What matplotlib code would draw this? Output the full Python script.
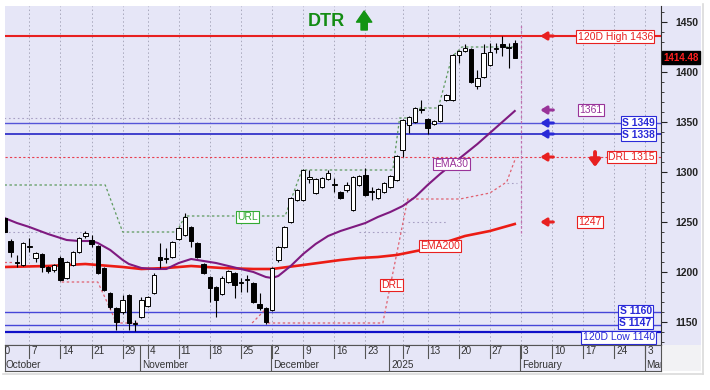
import matplotlib
matplotlib.use('Agg')
import matplotlib.pyplot as plt
from matplotlib.patches import Rectangle
from matplotlib.transforms import blended_transform_factory
from matplotlib.lines import Line2D

plt.rcParams['font.family'] = ['Liberation Sans', 'DejaVu Sans']

# x = trading day index, 0 = 30 Sep 2024 (28 Oct was not a trading day)
days = list(range(1, 84))
opens = [1254, 1231, 1210, 1207, 1225, 1214, 1218, 1205, 1202, 1214,
         1194, 1207, 1220, 1236, 1232, 1226, 1204, 1179, 1164, 1160,
         1177, 1148, 1155, 1166, 1179, 1215, 1213, 1215, 1233, 1237,
         1245, 1229, 1208, 1195, 1185, 1178, 1190, 1199, 1189, 1192,
         1189, 1168, 1164, 1162, 1212, 1225, 1250, 1272, 1272, 1293,
         1279, 1285, 1293, 1287, 1280, 1282, 1262, 1287, 1297, 1280,
         1274, 1280, 1285, 1292, 1322, 1347, 1350, 1362, 1353, 1348,
         1351, 1372, 1372, 1417, 1421, 1423, 1386, 1395, 1407, 1423,
         1428, 1424, 1429]
highs = [1256, 1233, 1217, 1230, 1234, 1220, 1219, 1206, 1208, 1216,
         1211, 1221, 1235, 1241, 1237, 1227, 1205, 1180, 1165, 1177,
         1178, 1152, 1175, 1176, 1199, 1229, 1224, 1231, 1245, 1259,
         1246, 1230, 1209, 1196, 1186, 1196, 1202, 1200, 1194, 1197,
         1190, 1179, 1165, 1205, 1226, 1246, 1275, 1283, 1303, 1302,
         1294, 1295, 1302, 1294, 1281, 1290, 1296, 1297, 1304, 1285,
         1284, 1290, 1297, 1317, 1353, 1356, 1365, 1372, 1354, 1352,
         1368, 1378, 1418, 1422, 1428, 1424, 1402, 1428, 1429, 1429,
         1436, 1429, 1432]
lows = [1238, 1215, 1205, 1206, 1220, 1210, 1200, 1199, 1200, 1191,
        1193, 1206, 1219, 1234, 1225, 1198, 1181, 1163, 1142, 1158,
        1142, 1141, 1154, 1165, 1178, 1204, 1209, 1214, 1232, 1236,
        1225, 1214, 1198, 1170, 1155, 1177, 1189, 1174, 1180, 1180,
        1169, 1162, 1148, 1161, 1210, 1224, 1249, 1271, 1271, 1289,
        1278, 1284, 1292, 1280, 1273, 1280, 1261, 1286, 1276, 1272,
        1273, 1279, 1284, 1291, 1315, 1339, 1349, 1359, 1338, 1347,
        1350, 1371, 1371, 1409, 1420, 1389, 1383, 1394, 1406, 1419,
        1416, 1404, 1414]
closes = [1240, 1220, 1209, 1229, 1226, 1219, 1205, 1201, 1207, 1192,
          1210, 1220, 1234, 1239, 1228, 1199, 1182, 1165, 1150, 1172,
          1149, 1149, 1172, 1175, 1197, 1212, 1214, 1230, 1244, 1255,
          1231, 1215, 1199, 1184, 1172, 1194, 1201, 1187, 1190, 1193,
          1170, 1164, 1150, 1204, 1225, 1245, 1274, 1282, 1302, 1295,
          1293, 1294, 1299, 1288, 1274, 1287, 1295, 1296, 1277, 1281,
          1283, 1289, 1296, 1316, 1352, 1355, 1364, 1363, 1344, 1351,
          1367, 1377, 1417, 1421, 1424, 1390, 1394, 1419, 1420, 1424,
          1425, 1425, 1414.48]

ema30_x = [1, 3, 5, 8, 11, 13, 15, 16, 18, 20, 21, 23, 25, 27, 29, 31, 33, 35,
           37, 39, 41, 43, 44, 45, 47, 49, 51, 53, 55, 57, 59, 61, 63, 65, 67,
           69, 71, 73, 75, 77, 79, 81, 83]
ema30 = [1254, 1249, 1245, 1238, 1232, 1231, 1231, 1229, 1222, 1212, 1208,
         1204, 1203, 1203, 1209, 1213, 1211, 1209, 1206, 1203, 1200, 1195,
         1194, 1196, 1206, 1218, 1228, 1236, 1241, 1245, 1249, 1255, 1260,
         1266, 1275, 1287, 1298, 1308, 1318, 1328, 1339, 1350, 1361]
ema200_x = [1, 8, 14, 16, 20, 23, 27, 31, 36, 41, 44, 49, 55, 58, 61, 64, 68,
            72, 75, 79, 83]
ema200 = [1205, 1206, 1208, 1207, 1205, 1203, 1204, 1206, 1204, 1203, 1203,
          1207, 1212, 1214, 1215, 1217, 1222, 1230, 1236, 1241, 1248]

url_x = [1, 17.2, 20, 28.7, 30, 46.1, 48.8, 63.4, 64.5, 66.6, 67.8, 70.7,
         72.9, 74.5, 83]
url_y = [1287, 1287, 1240, 1240, 1256, 1256, 1302, 1302, 1354, 1354, 1364,
         1364, 1415, 1425, 1425]
drl_segments = [
    ([1, 2.4], [1210, 1210]),
    ([10.2, 16, 18, 19, 22.8], [1190, 1190, 1163, 1149, 1149]),
    ([40.8, 43], [1149, 1163]),
    ([43.3, 61.8, 65.8, 74.2, 79, 81.7, 83.2],
     [1149, 1149, 1273, 1273, 1279, 1290, 1315]),
]
grey_segments = [
    ([1, 64.5], [1354, 1354]),
    ([1, 14], [1240, 1240]),
    ([58, 65.8], [1240, 1240]),
    ([65.8, 72.2], [1250, 1250]),
    ([81.7, 83.3], [1289, 1289]),
]

high120, low120 = 1436, 1140
supports = [1349, 1338, 1160, 1147]
drl_level = 1315

week_ticks = [0, 5, 10, 15, 20, 24, 29, 34, 39, 44, 49, 54, 59, 65, 69, 74,
              79, 84, 89, 94, 99, 104]
week_labels = ['30', '7', '14', '21', '29', '4', '11', '18', '25', '2', '9',
               '16', '23', '7', '13', '20', '27', '3', '10', '17', '24', '3']
month_starts = [-2, 23, 44, 63, 84, 104]
month_labels = ['October', 'November', 'December', '2025', 'February', 'March']

BG = '#E6E6F7'
RED = '#E82020'
PURPLE = '#993399'
BLUE = '#2A2AD8'
W, H = 710, 390
XL = (1.09, 106.5)

fig = plt.figure(figsize=(7.1, 3.9), dpi=100)
fig.patch.set_facecolor('white')
# price column and lower-right corner
fig.patches.append(Rectangle((661 / W, 1 - 345 / H), 40 / W, 339 / H,
                             transform=fig.transFigure, fc=BG, ec='none', zorder=-5))
fig.patches.append(Rectangle((661 / W, 1 - 371 / H), 40 / W, 26 / H,
                             transform=fig.transFigure, fc='#F2F2F4', ec='none', zorder=-5))
fig.lines.append(Line2D([703 / W, 703 / W], [1 - 374 / H, 1 - 4 / H],
                        transform=fig.transFigure, color='#DADADA', lw=1.2, zorder=-5))
fig.lines.append(Line2D([3 / W, 703 / W], [1 - 374 / H, 1 - 374 / H],
                        transform=fig.transFigure, color='#DADADA', lw=1.2, zorder=-5))

ax = fig.add_axes([5 / W, 1 - 345 / H, 656 / W, 339 / H])
ax.set_facecolor(BG)
ax.set_xlim(*XL)
ax.set_ylim(1127, 1466)

for t in week_ticks:
    ax.axvline(t, color='#A8A8BC', lw=0.7, ls=(0, (1.5, 2.5)), zorder=1)

# levels
ax.axhline(high120, color=RED, lw=1.5, zorder=2)
ax.axhline(low120, color='#1010C8', lw=1.6, zorder=2)
ax.axhline(supports[0], color='#5555D8', lw=1.0, zorder=2)
ax.axhline(supports[1], color='#4040CC', lw=1.4, zorder=2)
ax.axhline(supports[2], color='#4545D8', lw=1.0, zorder=2)
ax.axhline(supports[3], color='#4545D8', lw=1.0, zorder=2)
ax.axhline(drl_level, color='#E84050', lw=0.8, ls=(0, (2, 2)), zorder=2)

for xs, ys in grey_segments:
    ax.plot(xs, ys, color='#A8A0C4', lw=0.8, ls=(0, (1.5, 2.5)), zorder=2)
ax.plot(url_x, url_y, color='#5E9A5E', lw=0.9, ls=(0, (2, 2)), zorder=2)
for xs, ys in drl_segments:
    ax.plot(xs, ys, color='#E06070', lw=0.9, ls=(0, (2, 2)), zorder=2)
ax.plot([84, 84], [1239, 1447], color='#C070B0', lw=0.9, ls=(0, (2, 2)), zorder=2)

ax.plot(ema200_x, ema200, color='#EC1C14', lw=1.9, zorder=3)
ax.plot(ema30_x, ema30, color='#7F1A80', lw=1.5, zorder=3)

# candles
bw = 0.72
for d, o, h, l, c in zip(days, opens, highs, lows, closes):
    ax.vlines(d, l, h, color='black', lw=0.8, zorder=4)
    lo, hi = min(o, c), max(o, c)
    fc = 'white' if c >= o else 'black'
    ax.add_patch(Rectangle((d - bw / 2, lo), bw, max(hi - lo, 0.6),
                           fc=fc, ec='black', lw=0.7, zorder=5))


def tag(x, y, s, color, ha='center', bold=False, fc='white'):
    ax.text(x, y, s, color=color, ha=ha, va='center', fontsize=7.5,
            fontweight='bold' if bold else 'normal', zorder=8,
            bbox=dict(boxstyle='square,pad=0.12', fc=fc, ec=color, lw=0.8))


tag(105.2, 1435.5, '120D High 1436', RED, ha='right')
tag(95.2, 1362, '1361', PURPLE)
tag(105.5, 1349.5, 'S 1349', BLUE, ha='right', bold=True)
tag(105.5, 1337.5, 'S 1338', BLUE, ha='right', bold=True)
tag(105.5, 1315, 'DRL 1315', RED, ha='right')
tag(95.1, 1250, '1247', RED)
tag(105.0, 1161, 'S 1160', BLUE, ha='right', bold=True)
tag(105.0, 1149, 'S 1147', BLUE, ha='right', bold=True)
tag(105.5, 1134.5, '120D Low 1140', BLUE, ha='right')
tag(72.8, 1308, 'EMA30', PURPLE)
tag(71.0, 1226, 'EMA200', RED)
tag(63.2, 1187, 'DRL', RED)
tag(40.1, 1255, 'URL', '#33AA33')

for yv, col in [(1436, RED), (1362, PURPLE), (1349, BLUE), (1338, BLUE),
                (1315, RED), (1250, RED)]:
    ax.annotate('', xy=(87.1, yv), xytext=(89.2, yv), zorder=7,
                arrowprops=dict(arrowstyle='-|>,head_length=0.35,head_width=0.22',
                                color=col, lw=2.2, shrinkA=0, shrinkB=0))
ax.annotate('', xy=(95.9, 1305), xytext=(95.9, 1320), zorder=7,
            arrowprops=dict(arrowstyle='-|>,head_length=0.4,head_width=0.3',
                            color=RED, lw=2.8, shrinkA=0, shrinkB=0))

ax.text(52.8, 1451, 'DTR', color='#148C14', fontsize=13, fontweight='bold',
        ha='center', va='center', zorder=8)
ax.annotate('', xy=(58.8, 1461), xytext=(58.8, 1442), zorder=8,
            arrowprops=dict(arrowstyle='simple,head_width=1.1,head_length=0.8,tail_width=0.45',
                            color='#149414', mutation_scale=10, shrinkA=0, shrinkB=0))

# price axis on the right
ax.yaxis.tick_right()
ax.set_yticks(range(1150, 1451, 50))
ax.set_yticks(range(1130, 1466, 10), minor=True)
ax.tick_params(axis='y', which='major', length=4, width=0.8, pad=6,
               labelsize=7.5, labelcolor='#222222', colors='#222222')
ax.tick_params(axis='y', which='minor', length=2, width=0.6, colors='#222222')
for lab in ax.get_yticklabels():
    lab.set_fontweight('bold')
ax.set_xticks([])
for s in ['left', 'top']:
    ax.spines[s].set_visible(False)
ax.spines['right'].set_color('#333333')
ax.spines['bottom'].set_color('#333333')

tr = blended_transform_factory(ax.transAxes, ax.transData)
ax.text(1.004, 1414.48, '1414.48', transform=tr, color='#FF2020', fontsize=7,
        fontweight='bold', ha='left', va='center', zorder=9, clip_on=False,
        bbox=dict(boxstyle='square,pad=0.15', fc='black', ec='black'))

# date band under the chart
bx = fig.add_axes([5 / W, 1 - 371 / H, 656 / W, 26 / H])
bx.set_facecolor(BG)
bx.set_xlim(*XL)
bx.set_ylim(0, 2)
bx.set_xticks([])
bx.set_yticks([])
for s in bx.spines.values():
    s.set_color('#555555')
    s.set_linewidth(0.8)
for t, lab in zip(week_ticks, week_labels):
    bx.plot([t, t], [1, 2], color='#555555', lw=0.8)
    bx.text(t + 0.3, 1.5, lab, fontsize=7.2, color='#333333', ha='left',
            va='center', clip_on=True)
for t, lab in zip(month_starts, month_labels):
    bx.plot([t - 0.15, t - 0.15], [0, 2], color='#555555', lw=0.8)
    bx.text(t + 0.15 if t > 0 else 1.2, 0.5, lab, fontsize=7.2, color='#333333',
            ha='left', va='center', clip_on=True)

fig.savefig('out.png', dpi=100)
